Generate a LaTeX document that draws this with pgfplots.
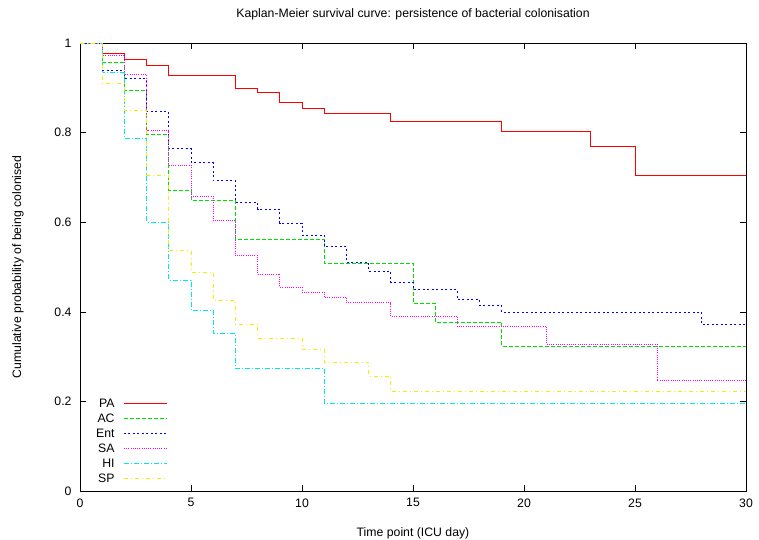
\documentclass[border=0pt]{standalone}
\usepackage{fontspec}
\setmainfont{Liberation Sans}
\usepackage{pgfplots}
\pgfplotsset{compat=1.18}
\definecolor{kmRed}{HTML}{FF0000}
\definecolor{kmGreen}{HTML}{00E000}
\definecolor{kmBlue}{HTML}{0000FF}
\definecolor{kmMagenta}{HTML}{FF00FF}
\definecolor{kmCyan}{HTML}{00E8E8}
\definecolor{kmYellow}{HTML}{F0F000}
\newcommand{\kmfont}{\fontsize{12.3}{14}\selectfont}

\begin{document}
\begin{tikzpicture}
\useasboundingbox (0,0) rectangle (759bp,540bp);
\begin{axis}[
    at={(80bp,49bp)}, anchor=south west,
    scale only axis, width=666bp, height=448bp,
    xmin=0, xmax=30, ymin=0, ymax=1,
    xtick={0,5,...,30},
    ytick={0,0.2,0.4,0.6,0.8,1},
    yticklabels={0,0.2,0.4,0.6,0.8,1},
    tick align=inside, major tick length=6bp,
    every tick/.style={black, line width=0.5pt},
    axis line style={line width=0.7pt},
    /pgf/number format/assume math mode=true,
    tick label style={font=\kmfont},
    xticklabel style={yshift=-4bp},
    yticklabel style={xshift=-5bp},
    title={Kaplan-Meier survival curve: persistence of bacterial colonisation},
    title style={font=\kmfont, anchor=base, at={(0.5,1)}, yshift=20bp},
    xlabel={Time point (ICU day)},
    xlabel style={font=\kmfont, at={(axis description cs:0.5,0)}, anchor=base, yshift=-45bp},
    ylabel={Cumulative probability of being colonised},
    ylabel style={font=\kmfont, at={(axis description cs:-0.093,0.5)}, anchor=center},
    const plot,
    every axis plot/.append style={line width=0.75bp},
    legend cell align=right,
    legend plot pos=right,
    legend image code/.code={\draw[#1] (0bp,0bp) -- (43bp,0bp);},
    legend style={at={(axis description cs:0.024,0.208)}, anchor=north west,
      draw=none, fill=none, inner sep=0pt, row sep=3.5bp, font=\kmfont,
      nodes={inner sep=0pt, text height=9bp, text depth=2.5bp},
      /tikz/column sep=9bp}
]
  % PA
  \addplot[kmRed] coordinates {
    (0,1) (1,0.977) (2,0.964) (3,0.950) (4,0.927) (7,0.899) (8,0.889)
    (9,0.868) (10,0.855) (11,0.842) (14,0.826) (19,0.802) (23,0.770)
    (25,0.704) (30,0.704)
  };
  \addlegendentry{PA}
  % AC
  \addplot[kmGreen, dash pattern=on 4bp off 2bp] coordinates {
    (0,1) (1,0.956) (2,0.895) (3,0.796) (4,0.672) (5,0.649) (7,0.562)
    (11,0.509) (15,0.419) (16,0.377) (19,0.323) (30,0.323)
  };
  \addlegendentry{AC}
  % Ent
  \addplot[kmBlue, dash pattern=on 2bp off 2.5bp] coordinates {
    (0,1) (1,0.939) (2,0.920) (3,0.847) (4,0.764) (5,0.733) (6,0.693)
    (7,0.644) (8,0.629) (9,0.598) (10,0.571) (11,0.545) (12,0.511)
    (13,0.490) (14,0.466) (15,0.449) (17,0.427) (18,0.414) (19,0.399)
    (28,0.371) (30,0.371)
  };
  \addlegendentry{Ent}
  % SA
  \addplot[kmMagenta, dash pattern=on 1bp off 1.2bp] coordinates {
    (0,1) (1,0.973) (2,0.929) (3,0.804) (4,0.727) (5,0.658) (6,0.603)
    (7,0.525) (8,0.484) (9,0.455) (10,0.444) (11,0.432) (12,0.420)
    (14,0.390) (17,0.368) (21,0.328) (26,0.246) (30,0.246)
  };
  \addlegendentry{SA}
  % HI
  \addplot[kmCyan, dash pattern=on 5bp off 2bp on 1bp off 2bp] coordinates {
    (0,1) (1,0.934) (2,0.787) (3,0.600) (4,0.471) (5,0.404) (6,0.352)
    (7,0.274) (11,0.196) (30,0.196)
  };
  \addlegendentry{HI}
  % SP
  \addplot[kmYellow, dash pattern=on 4bp off 3bp on 1bp off 3bp] coordinates {
    (0,1) (1,0.910) (2,0.850) (3,0.705) (4,0.536) (5,0.489) (6,0.426)
    (7,0.372) (8,0.341) (10,0.316) (11,0.287) (13,0.256) (14,0.223)
    (30,0.223)
  };
  \addlegendentry{SP}
\end{axis}
\end{tikzpicture}
\end{document}
